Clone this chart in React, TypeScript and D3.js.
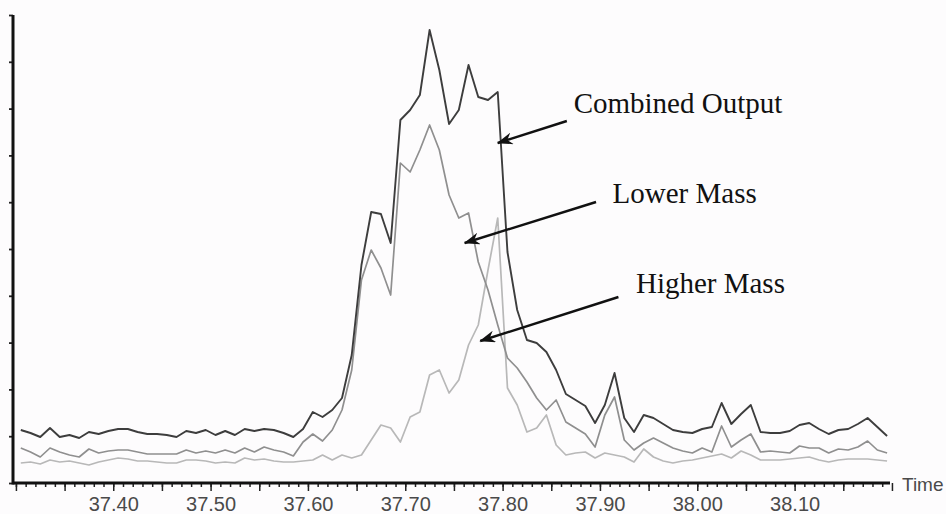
import React, { useEffect, useRef } from "react";
import * as d3 from "d3";

// scan times (min)
const times = [
  37.305, 37.315, 37.325, 37.335, 37.345, 37.355, 37.365, 37.375, 37.385, 37.395,
  37.405, 37.415, 37.425, 37.435, 37.445, 37.455, 37.465, 37.475, 37.485, 37.495,
  37.505, 37.515, 37.525, 37.535, 37.545, 37.555, 37.565, 37.575, 37.585, 37.595,
  37.605, 37.615, 37.625, 37.635, 37.645, 37.655, 37.665, 37.675, 37.685, 37.695,
  37.705, 37.715, 37.725, 37.735, 37.745, 37.755, 37.765, 37.775, 37.785, 37.795,
  37.805, 37.815, 37.825, 37.835, 37.845, 37.855, 37.865, 37.875, 37.885, 37.895,
  37.905, 37.915, 37.925, 37.935, 37.945, 37.955, 37.965, 37.975, 37.985, 37.995,
  38.005, 38.015, 38.025, 38.035, 38.045, 38.055, 38.065, 38.075, 38.085, 38.095,
  38.105, 38.115, 38.125, 38.135, 38.145, 38.155, 38.165, 38.175, 38.185, 38.195
];

// intensities (arbitrary counts)
const combined = [
  53, 50, 46, 55, 46, 48, 45, 51, 49, 52,
  54, 54, 51, 49, 49, 48, 46, 52, 50, 53,
  48, 52, 48, 54, 52, 54, 53, 50, 46, 54,
  71, 66, 73, 85, 128, 218, 271, 269, 240, 363,
  373, 388, 453, 413, 359, 373, 418, 386, 383, 391,
  231, 173, 143, 140, 131, 113, 89, 83, 77, 60,
  78, 110, 65, 51, 68, 65, 59, 53, 51, 50,
  54, 56, 80, 59, 69, 78, 51, 50, 50, 52,
  58, 60, 54, 49, 53, 54, 59, 65, 56, 47
];

const lowerMass = [
  35, 31, 26, 35, 31, 28, 26, 34, 30, 32,
  33, 33, 31, 29, 29, 29, 29, 33, 30, 32,
  30, 33, 30, 35, 31, 36, 33, 31, 27, 41,
  49, 42, 53, 73, 113, 203, 233, 215, 188, 320,
  311, 333, 358, 333, 288, 265, 270, 221, 193, 158,
  125, 115, 101, 85, 73, 83, 61, 55, 49, 36,
  68, 86, 43, 33, 40, 45, 40, 35, 32, 30,
  35, 31, 57, 36, 43, 49, 31, 32, 31, 30,
  37, 35, 35, 30, 34, 33, 36, 42, 33, 30
];

const higherMass = [
  20, 21, 19, 23, 21, 22, 20, 18, 21, 23,
  25, 24, 22, 22, 21, 20, 20, 23, 23, 22,
  20, 21, 20, 25, 23, 24, 22, 21, 21, 22,
  23, 28, 23, 28, 25, 28, 43, 58, 55, 41,
  66, 71, 108, 113, 90, 103, 138, 158, 213, 265,
  95, 78, 51, 55, 68, 38, 28, 30, 31, 25,
  30, 28, 26, 21, 34, 26, 22, 20, 22, 23,
  25, 27, 29, 25, 32, 28, 23, 23, 23, 24,
  25, 26, 23, 21, 23, 24, 24, 24, 23, 22
];

const xLabels = ["37.40", "37.50", "37.60", "37.70", "37.80", "37.90", "38.00", "38.10"];

// callouts: text, text anchor (time, count), arrow start, arrow tip
const calloutText = ["Combined Output", "Lower Mass", "Higher Mass"];
const calloutAt = [[37.873, 370], [37.913, 280], [37.937, 190]];
const arrowFrom = [[37.866, 362], [37.896, 281], [37.919, 186]];
const arrowTo = [[37.795, 340], [37.761, 240], [37.777, 142]];

const W = 946;
const H = 514;

export default function App() {
  const ref = useRef<SVGSVGElement>(null);

  useEffect(() => {
    const svg = d3.select(ref.current);
    svg.selectAll("*").remove();

    const x = d3.scaleLinear().domain([37.297, 38.198]).range([13, 890]);
    const y = d3.scaleLinear().domain([0, 468]).range([483, 15]);

    svg.append("rect").attr("width", W).attr("height", H).attr("fill", "#fdfcfd");

    // arrow head
    svg
      .append("defs")
      .append("marker")
      .attr("id", "head")
      .attr("markerUnits", "userSpaceOnUse")
      .attr("viewBox", "0 0 16 12")
      .attr("refX", 15)
      .attr("refY", 6)
      .attr("markerWidth", 16)
      .attr("markerHeight", 12)
      .attr("orient", "auto")
      .append("path")
      .attr("d", "M0,0 L16,6 L0,12 L5,6 Z")
      .attr("fill", "#111");

    const line = d3
      .line<number>()
      .x((d, i) => x(times[i]))
      .y((d) => y(d));

    const series = [
      { values: higherMass, color: "#b8b8b8", width: 1.7 },
      { values: lowerMass, color: "#8f8f8f", width: 1.7 },
      { values: combined, color: "#3d3d3d", width: 1.9 }
    ];

    svg
      .selectAll("path.trace")
      .data(series)
      .enter()
      .append("path")
      .attr("class", "trace")
      .attr("fill", "none")
      .attr("stroke", (d) => d.color)
      .attr("stroke-width", (d) => d.width)
      .attr("stroke-linejoin", "round")
      .attr("d", (d) => line(d.values));

    // minor ticks every 0.01
    const minor = d3.range(37.30, 38.195, 0.01).map((d) => +d.toFixed(2));
    const gMinor = svg
      .append("g")
      .attr("transform", `translate(0,${y(0)})`)
      .call(
        d3.axisBottom(x).tickValues(minor).tickSize(4).tickSizeOuter(0).tickFormat(() => "")
      );
    gMinor.select(".domain").remove();
    gMinor.selectAll("line").attr("stroke", "#222").attr("stroke-width", 1.5);

    // major ticks every 0.05, labels every 0.1
    const major = d3.range(37.30, 38.2, 0.05).map((d) => +d.toFixed(2));
    const gx = svg
      .append("g")
      .attr("transform", `translate(0,${y(0)})`)
      .call(
        d3
          .axisBottom(x)
          .tickValues(major)
          .tickSize(8)
          .tickSizeOuter(0)
          .tickPadding(6)
          .tickFormat((d) => {
            const s = (d as number).toFixed(2);
            return xLabels.includes(s) ? s : "";
          })
      );
    gx.select(".domain").remove();
    gx.selectAll("line").attr("stroke", "#222").attr("stroke-width", 1.5);
    gx.selectAll("text")
      .attr("font-family", "Liberation Sans, Arial, sans-serif")
      .attr("font-size", 20)
      .attr("fill", "#4a4a4a");

    svg
      .append("text")
      .attr("x", x(38.198) + 12)
      .attr("y", y(0) + 8)
      .attr("font-family", "Liberation Sans, Arial, sans-serif")
      .attr("font-size", 19)
      .attr("fill", "#4a4a4a")
      .text("Time");

    // y axis, unlabeled
    const gy = svg
      .append("g")
      .attr("transform", `translate(${x(37.297)},0)`)
      .call(
        d3
          .axisLeft(y)
          .tickValues(d3.range(0, 469, 46.8))
          .tickSize(4)
          .tickSizeOuter(0)
          .tickFormat(() => "")
      );
    gy.select(".domain").remove();
    gy.selectAll("line").attr("stroke", "#222").attr("stroke-width", 1.8);

    // axis lines
    svg
      .append("line")
      .attr("x1", x(37.297))
      .attr("x2", x(38.198))
      .attr("y1", y(0))
      .attr("y2", y(0))
      .attr("stroke", "#111")
      .attr("stroke-width", 3);
    svg
      .append("line")
      .attr("x1", x(37.297))
      .attr("x2", x(37.297))
      .attr("y1", y(0) + 1.5)
      .attr("y2", y(468))
      .attr("stroke", "#111")
      .attr("stroke-width", 3);

    // callouts
    calloutText.forEach((label, i) => {
      svg
        .append("line")
        .attr("x1", x(arrowFrom[i][0]))
        .attr("y1", y(arrowFrom[i][1]))
        .attr("x2", x(arrowTo[i][0]))
        .attr("y2", y(arrowTo[i][1]))
        .attr("stroke", "#111")
        .attr("stroke-width", 2.4)
        .attr("marker-end", "url(#head)");

      svg
        .append("text")
        .attr("x", x(calloutAt[i][0]))
        .attr("y", y(calloutAt[i][1]))
        .attr("font-family", "Liberation Serif, Times New Roman, serif")
        .attr("font-size", 29)
        .attr("fill", "#111")
        .text(label);
    });
  }, []);

  return (
    <svg
      ref={ref}
      width={W}
      height={H}
      style={{ position: "absolute", left: 0, top: 0, display: "block" }}
    />
  );
}
